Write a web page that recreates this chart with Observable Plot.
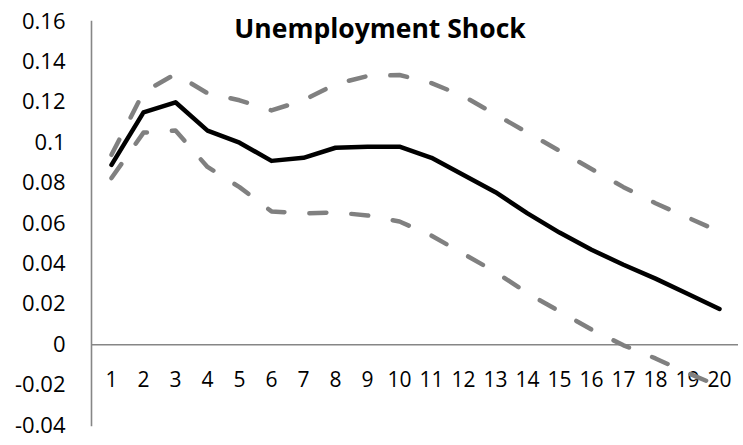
<!DOCTYPE html>
<html>
<head>
<meta charset="utf-8">
<script src="https://cdn.jsdelivr.net/npm/d3@7"></script>
<script src="https://cdn.jsdelivr.net/npm/@observablehq/plot@0.6"></script>
<style>
  html, body { margin: 0; padding: 0; background: #fff; }
  #chart svg { display: block; }
</style>
</head>
<body>
<div id="chart"></div>
<script>
const title = "Unemployment Shock";
const periods = [1, 2, 3, 4, 5, 6, 7, 8, 9, 10, 11, 12, 13, 14, 15, 16, 17, 18, 19, 20];
const response = [0.089, 0.115, 0.120, 0.106, 0.100, 0.091, 0.0925, 0.0975, 0.098, 0.098, 0.0925, 0.084, 0.0755, 0.065, 0.0555, 0.047, 0.0396, 0.0327, 0.0252, 0.0177];
const upper = [0.094, 0.125, 0.134, 0.1245, 0.121, 0.116, 0.121, 0.129, 0.133, 0.1335, 0.1295, 0.123, 0.114, 0.105, 0.096, 0.087, 0.078, 0.070, 0.063, 0.056];
const lower = [0.0825, 0.105, 0.106, 0.088, 0.078, 0.066, 0.065, 0.0655, 0.064, 0.061, 0.054, 0.045, 0.036, 0.0255, 0.0165, 0.0075, -0.0003, -0.0068, -0.014, -0.0206];
const yTicks = [-0.04, -0.02, 0, 0.02, 0.04, 0.06, 0.08, 0.1, 0.12, 0.14, 0.16];

const rows = periods.map((p, i) => ({period: p, response: response[i], upper: upper[i], lower: lower[i]}));
const fmt = d => String(+d.toFixed(2));

const chart = Plot.plot({
  width: 743,
  height: 445,
  marginLeft: 91,
  marginRight: 5,
  marginTop: 21,
  marginBottom: 20,
  style: {fontFamily: "'Open Sans', sans-serif", background: "#fff", color: "#000"},
  x: {type: "point", domain: periods, padding: 0.5, axis: null},
  y: {domain: [-0.04, 0.16], axis: null},
  marks: [
    Plot.frame({anchor: "left", stroke: "#868686", strokeWidth: 1.6}),
    Plot.ruleY([0], {stroke: "#868686", strokeWidth: 1.6}),
    Plot.axisY({ticks: yTicks, tickFormat: fmt, tickSize: 0, tickPadding: 26, fontSize: 22, fill: "#000", label: null}),
    Plot.text(periods, {x: d => d, y: 0, dy: 36, text: d => String(d), fontSize: 21, fill: "#000"}),
    Plot.line(rows, {x: "period", y: "upper", stroke: "#808080", strokeWidth: 4.5, strokeDasharray: "17,25", strokeLinecap: "round"}),
    Plot.line(rows, {x: "period", y: "lower", stroke: "#808080", strokeWidth: 4.5, strokeDasharray: "17,25", strokeLinecap: "round"}),
    Plot.line(rows, {x: "period", y: "response", stroke: "#000", strokeWidth: 4.5, strokeLinejoin: "round"}),
    Plot.text([title], {frameAnchor: "top", dx: -35, dy: -2, fontSize: 26.5, fontWeight: "bold", fill: "#000"})
  ]
});
document.getElementById("chart").appendChild(chart);
</script>
</body>
</html>
